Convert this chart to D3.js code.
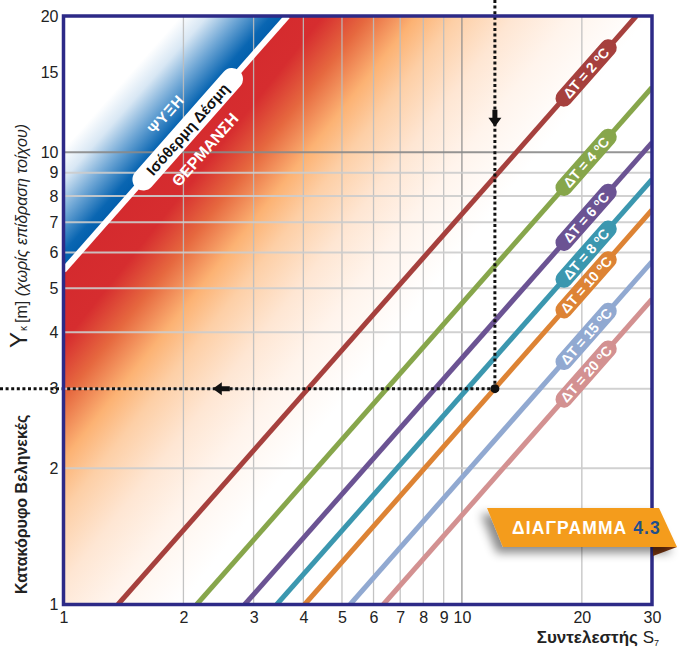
<!DOCTYPE html>
<html><head><meta charset="utf-8">
<script src="https://cdn.jsdelivr.net/npm/d3@7"></script>
<style>body{margin:0;background:#fff}svg{display:block;font-family:"Liberation Sans",Arial,sans-serif}</style>
</head><body><svg id="c" width="684" height="650"></svg>
<script>
// ---------- data ----------
const deltaT = [2, 4, 6, 8, 10, 15, 20];
const lineColors = ["#a6403d", "#87a64b", "#6b5393", "#3b97af", "#dd8334", "#91a9d1", "#d39191"];
const lineStartS = [1.37, 2.16, 2.85, 3.43, 4.03, 5.24, 6.35];   // S where Y = 1
const lineStartY = [1, 1, 1, 1, 1, 1, 1];
const lineEndS = [27.4, 30, 30, 30, 30, 30, 30];
const lineEndY = [20, 13.9, 10.5, 8.7, 7.45, 5.73, 4.73];
const labelS = 20.5;
const isoS = [1, 3.65];
const isoY = [5.48, 20];
const isoLabelS = 2.05;
const xTicks = [1, 2, 3, 4, 5, 6, 7, 8, 9, 10, 20, 30];
const yTicks = [1, 2, 3, 4, 5, 6, 7, 8, 9, 10, 15, 20];
const xGrid = [2, 3, 4, 5, 6, 7, 8, 9, 10, 20];
const yGrid = [2, 3, 4, 5, 6, 7, 8, 9, 10];
const readS = 12.1, readY = 3;
const arrowDownY = 11.8, arrowLeftS = 2.37;

// ---------- scales ----------
const L = 63.5, R = 652, T = 16, B = 604.5;
const x = d3.scaleLog().domain([1, 30]).range([L, R]);
const y = d3.scaleLog().domain([1, 20]).range([B, T]);
const svg = d3.select("#c");
const defs = svg.append("defs");
defs.append("clipPath").attr("id", "plotClip").append("rect")
  .attr("x", L).attr("y", T).attr("width", R - L).attr("height", B - T);

const dx0 = x(isoS[1]) - x(isoS[0]), dy0 = y(isoY[1]) - y(isoY[0]);
const len0 = Math.hypot(dx0, dy0);
const ux = dx0 / len0, uy = dy0 / len0;
const nx = -uy, ny = ux;
const angle = Math.atan2(dy0, dx0) * 180 / Math.PI;
const P = [x(isoS[0]), y(isoY[0])];

function logInterp(s0, y0, s1, y1, s) {
  const t = (Math.log(s) - Math.log(s0)) / (Math.log(s1) - Math.log(s0));
  return Math.exp(Math.log(y0) + t * (Math.log(y1) - Math.log(y0)));
}

const gB = defs.append("linearGradient").attr("id", "gBlue").attr("gradientUnits", "userSpaceOnUse")
  .attr("x1", P[0]).attr("y1", P[1]).attr("x2", P[0] - nx * 80).attr("y2", P[1] - ny * 80);
[[0, "#005dab"], [0.15, "#0a66b2"], [0.45, "#6ea6d5"], [0.75, "#d8e7f4"], [1, "#ffffff"]]
  .forEach(s => gB.append("stop").attr("offset", s[0]).attr("stop-color", s[1]));
// warm gradient, direction slightly flatter than the perpendicular
const th = 38.5 * Math.PI / 180, rn = [Math.cos(th), Math.sin(th)];
const gR = defs.append("linearGradient").attr("id", "gRed").attr("gradientUnits", "userSpaceOnUse")
  .attr("x1", P[0]).attr("y1", P[1]).attr("x2", P[0] + rn[0] * 300).attr("y2", P[1] + rn[1] * 300);
[[0, "#d42a2e"], [0.15, "#d62d2f"], [0.267, "#e6683f"], [0.393, "#fcb273"], [0.5, "#fdcfa6"], [0.65, "#fee6d3"], [0.8, "#fff4ec"], [1, "#ffffff"]]
  .forEach(s => gR.append("stop").attr("offset", s[0]).attr("stop-color", s[1]));

const plot = svg.append("g").attr("clip-path", "url(#plotClip)");
const pts = a => a.map(p => [x(p[0]), y(p[1])].join(",")).join(" ");
plot.append("polygon").attr("points", pts([[1, 20], [isoS[1], isoY[1]], [isoS[0], isoY[0]]])).attr("fill", "url(#gBlue)");
plot.append("polygon").attr("points", pts([[isoS[0], isoY[0]], [isoS[1], isoY[1]], [30, 20], [30, 1], [1, 1]])).attr("fill", "url(#gRed)");

plot.selectAll(".vg").data(xGrid).join("line")
  .attr("x1", d => x(d)).attr("x2", d => x(d)).attr("y1", T).attr("y2", B)
  .attr("stroke", d => d === 10 ? "#8a8a8a" : "#bdbdbd").attr("stroke-width", 1.3).attr("opacity", 0.9);
plot.selectAll(".hg").data(yGrid).join("line")
  .attr("y1", d => y(d)).attr("y2", d => y(d)).attr("x1", L).attr("x2", R)
  .attr("stroke", d => d === 10 ? "#8a8a8a" : "#cdcdcd").attr("stroke-width", 2).attr("opacity", 0.9);

plot.append("line").attr("x1", x(isoS[0])).attr("y1", y(isoY[0])).attr("x2", x(isoS[1])).attr("y2", y(isoY[1]))
  .attr("stroke", "#fff").attr("stroke-width", 6);

deltaT.forEach((d, i) => {
  plot.append("line")
    .attr("x1", x(lineStartS[i])).attr("y1", y(lineStartY[i]))
    .attr("x2", x(lineEndS[i])).attr("y2", y(lineEndY[i]))
    .attr("stroke", lineColors[i]).attr("stroke-width", 5);
});

const dot = svg.append("g");
dot.append("line").attr("x1", x(readS)).attr("x2", x(readS)).attr("y1", 0).attr("y2", y(readY))
  .attr("stroke", "#111").attr("stroke-width", 3).attr("stroke-dasharray", "3,2.6");
dot.append("line").attr("x1", 0).attr("x2", x(readS)).attr("y1", y(readY)).attr("y2", y(readY))
  .attr("stroke", "#111").attr("stroke-width", 3).attr("stroke-dasharray", "3,2.6");
dot.append("circle").attr("cx", x(readS)).attr("cy", y(readY)).attr("r", 4.5).attr("fill", "#111");
{
  const ax = x(readS), ay = y(arrowDownY);
  dot.append("path").attr("d", `M${ax - 2.5},${ay - 10}H${ax + 2.5}V${ay - 2}H${ax + 6.5}L${ax},${ay + 7}L${ax - 6.5},${ay - 2}H${ax - 2.5}Z`).attr("fill", "#111");
  const bx = x(arrowLeftS), by = y(readY);
  dot.append("path").attr("d", `M${bx + 17},${by - 2.5}V${by + 2.5}H${bx + 9}V${by + 6.5}L${bx},${by}L${bx + 9},${by - 6.5}V${by - 2.5}Z`).attr("fill", "#111");
}

deltaT.forEach((d, i) => {
  const yl = logInterp(lineStartS[i], lineStartY[i], lineEndS[i], lineEndY[i], labelS);
  const g = svg.append("g").attr("transform", `translate(${x(labelS)},${y(yl)}) rotate(${angle})`);
  g.append("rect").attr("x", -42).attr("y", -8.5).attr("width", 84).attr("height", 17).attr("rx", 8.5).attr("fill", lineColors[i]);
  const t = g.append("text").attr("text-anchor", "middle").attr("y", 5).attr("fill", "#fff")
    .attr("font-weight", "bold").attr("font-size", 14);
  t.append("tspan").text(`ΔT = ${d} `);
  t.append("tspan").attr("font-size", 9).attr("dy", -4.5).text("o");
  t.append("tspan").attr("dy", 4.5).text("C");
});

{
  const yl = logInterp(isoS[0], isoY[0], isoS[1], isoY[1], isoLabelS);
  const g = svg.append("g").attr("transform", `translate(${x(isoLabelS)},${y(yl)}) rotate(${angle})`);
  g.append("rect").attr("x", -78).attr("y", -11).attr("width", 156).attr("height", 22).attr("rx", 11).attr("fill", "#fff");
  g.append("text").attr("text-anchor", "middle").attr("y", 5.3).attr("font-weight", "bold").attr("font-size", 15)
    .attr("fill", "#111").text("Ισόθερμη Δέσμη");
  g.append("text").attr("text-anchor", "middle").attr("x", -3).attr("y", -21).attr("font-weight", "bold").attr("font-size", 15)
    .attr("letter-spacing", 0.8).attr("fill", "#fff").text("ΨΥΞΗ");
  g.append("text").attr("text-anchor", "middle").attr("x", -4).attr("y", 32).attr("font-weight", "bold").attr("font-size", 16)
    .attr("fill", "#fff").text("ΘΕΡΜΑΝΣΗ");
}

const xa = svg.append("g").attr("transform", `translate(0,${B})`)
  .call(d3.axisBottom(x).tickValues(xTicks).tickFormat(d3.format("d")).tickSize(0).tickPadding(7));
const ya = svg.append("g").attr("transform", `translate(${L},0)`)
  .call(d3.axisLeft(y).tickValues(yTicks).tickFormat(d3.format("d")).tickSize(0).tickPadding(5));
[xa, ya].forEach(a => {
  a.select(".domain").remove();
  a.selectAll("text").attr("font-size", 16).attr("fill", "#222").attr("font-family", "'Liberation Sans',Arial,sans-serif");
});
dot.raise();

svg.append("rect").attr("x", L).attr("y", T).attr("width", R - L).attr("height", B - T)
  .attr("fill", "none").attr("stroke", "#2d2a87").attr("stroke-width", 3.5);

svg.append("text").attr("text-anchor", "end").attr("x", 659).attr("y", 643).attr("fill", "#222")
  .call(t => {
    t.append("tspan").attr("font-weight", "bold").attr("font-size", 17).text("Συντελεστής ");
    t.append("tspan").attr("font-size", 17).text("S");
    t.append("tspan").attr("font-size", 9).attr("dy", 3).text("7");
  });
svg.append("text").attr("transform", "translate(27,594) rotate(-90)").attr("fill", "#222")
  .attr("font-weight", "bold").attr("font-size", 16).text("Κατακόρυφο Βεληνεκές");
svg.append("text").attr("transform", "translate(27,348) rotate(-90)").attr("fill", "#222")
  .call(t => {
    t.append("tspan").attr("font-size", 24).text("Y");
    t.append("tspan").attr("font-size", 10).attr("dx", 1).text("κ");
    t.append("tspan").attr("font-size", 16).attr("dx", 3).text("[m] ");
    t.append("tspan").attr("font-size", 16).attr("font-style", "italic").text("(χωρίς επίδραση τοίχου)");
  });

const f = defs.append("filter").attr("id", "sh").attr("x", "-30%").attr("y", "-50%").attr("width", "160%").attr("height", "220%");
f.append("feDropShadow").attr("dx", -6).attr("dy", 6).attr("stdDeviation", 5).attr("flood-color", "#000").attr("flood-opacity", 0.45);
svg.append("polygon").attr("points", "653,547 677,547 653,556").attr("fill", "#7a3510");
svg.append("polygon").attr("points", "487,508 659,508 677,547 503,547").attr("fill", "#f49c1f").attr("filter", "url(#sh)");
svg.append("text").attr("x", 512).attr("y", 534).attr("font-weight", "bold").attr("font-size", 17.5).attr("letter-spacing", 1.1)
  .call(t => {
    t.append("tspan").attr("fill", "#fff").text("ΔΙΑΓΡΑΜΜΑ ");
    t.append("tspan").attr("fill", "#1f4f8c").text("4.3");
  });
</script></body></html>
